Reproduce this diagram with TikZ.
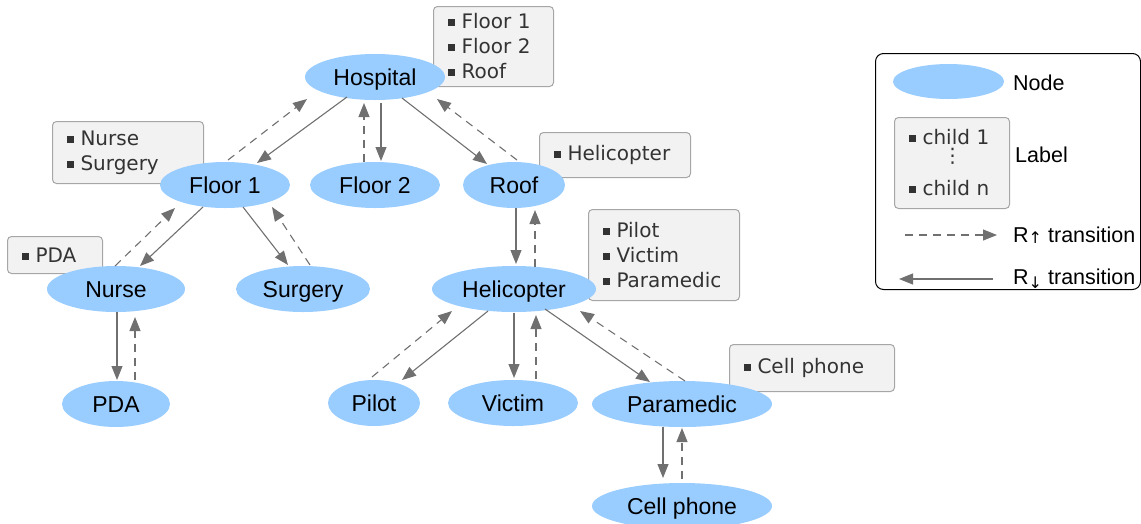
\documentclass[tikz,border=0pt]{standalone}
\usepackage{fontspec}
\setmainfont{Liberation Sans}
\newfontfamily\lblfont{DejaVu Sans}
\usetikzlibrary{shapes.geometric,arrows.meta,calc}

\definecolor{nodeblue}{HTML}{99CCFF}
\definecolor{lblfill}{HTML}{F2F2F2}
\definecolor{lblline}{HTML}{A6A6A6}
\definecolor{lbltext}{HTML}{333333}
\definecolor{edgegray}{HTML}{707070}

% small square bullet used in the child lists
\newcommand\sqb{{\color{lbltext}\rule[2.5pt]{7pt}{7pt}}\hspace{7pt}}
% subscript-like arrows of the legend
\newcommand\rup{\raisebox{-1.5pt}{\lblfont\fontsize{16}{16}\selectfont ↑}}
\newcommand\rdn{\raisebox{-4pt}{\lblfont\fontsize{16}{16}\selectfont ↓}}

\tikzset{
  st/.style={ellipse, fill=nodeblue, draw=none, inner sep=0pt,
    text height=16pt, text depth=0pt, font=\fontsize{23}{23}\selectfont},
  lbl/.style={draw=lblline, fill=lblfill, rounded corners=4pt, line width=1pt,
    anchor=north west, inner xsep=14pt, inner ysep=0pt, align=left,
    text=lbltext, font=\lblfont\fontsize{20}{25}\selectfont},
  legtext/.style={anchor=west, inner sep=0pt, font=\fontsize{21.5}{21.5}\selectfont},
  dn/.style={draw=edgegray, line width=1.1pt,
    -{Triangle[length=14pt,width=11pt]}},
  upe/.style={dn, dash pattern=on 8pt off 6pt},
}

\begin{document}
\begin{tikzpicture}[x=1pt,y=-1pt]
\useasboundingbox (0,0) rectangle (1141,523);

% child lists
\node[lbl, text width=92, minimum height=80] (lhosp) at (433,6)
  {\sqb Floor 1\\\sqb Floor 2\\\sqb Roof};
\node[lbl, text width=123, minimum height=62] (lf1) at (52,121)
  {\sqb Nurse\\\sqb Surgery};
\node[lbl, text width=67, minimum height=37] (lnurse) at (7,236)
  {\sqb PDA};
\node[lbl, text width=123, minimum height=45] (lroof) at (539,132)
  {\sqb Helicopter};
\node[lbl, text width=123, minimum height=91] (lheli) at (588,209)
  {\sqb Pilot\\\sqb Victim\\\sqb Paramedic};
\node[lbl, text width=137, minimum height=47] (lpara) at (729,344)
  {\sqb Cell phone};

% hierarchy nodes
\node[st, minimum width=140, minimum height=46] (hosp)   at (375,77)  {Hospital};
\node[st, minimum width=130, minimum height=46] (f1)     at (225,185) {Floor 1};
\node[st, minimum width=130, minimum height=46] (f2)     at (375,185) {Floor 2};
\node[st, minimum width=102, minimum height=46] (roof)   at (514,185) {Roof};
\node[st, minimum width=138, minimum height=46] (nurse)  at (116,289) {Nurse};
\node[st, minimum width=134, minimum height=46] (surg)   at (303,289) {Surgery};
\node[st, minimum width=108, minimum height=46] (pda)    at (116,404) {PDA};
\node[st, minimum width=164, minimum height=46] (heli)   at (514,289) {Helicopter};
\node[st, minimum width=92,  minimum height=46] (pilot)  at (374,403) {Pilot};
\node[st, minimum width=130, minimum height=46] (victim) at (513,403) {Victim};
\node[st, minimum width=180, minimum height=46] (para)   at (682,404) {Paramedic};
\node[st, minimum width=180, minimum height=46] (cell)   at (682,506) {Cell phone};

% R-down (solid) and R-up (dashed) transitions
\draw[dn]  ($(hosp)+(-28,20)$) -- ($(f1)+(32,-22)$);
\draw[upe] ($(f1)+(3,-25)$) -- ($(hosp)+(-68,22)$);
\draw[dn]  ($(hosp)+(6,26)$) -- ($(f2)+(6,-24)$);
\draw[upe] ($(f2)+(-11,-23)$) -- ($(hosp)+(-11,26)$);
\draw[dn]  ($(hosp)+(27,21)$) -- ($(roof)+(-27,-21)$);
\draw[upe] ($(roof)+(3,-25)$) -- ($(hosp)+(62,22)$);
\draw[dn]  ($(f1)+(-22,22)$) -- ($(nurse)+(24,-23)$);
\draw[upe] ($(nurse)+(-1,-23)$) -- ($(f1)+(-50,23)$);
\draw[dn]  ($(f1)+(18,22)$) -- ($(surg)+(-15,-24)$);
\draw[upe] ($(surg)+(7,-24)$) -- ($(f1)+(47,22)$);
\draw[dn]  ($(nurse)+(1,23)$) -- ($(pda)+(1,-24)$);
\draw[upe] ($(pda)+(19,-24)$) -- ($(nurse)+(19,28)$);
\draw[dn]  ($(roof)+(2,23)$) -- ($(heli)+(2,-25)$);
\draw[upe] ($(heli)+(21,-22)$) -- ($(roof)+(21,25)$);
\draw[dn]  ($(heli)+(-26,22)$) -- ($(pilot)+(28,-23)$);
\draw[upe] ($(pilot)+(-2,-26)$) -- ($(heli)+(-62,22)$);
\draw[dn]  ($(heli)+(0,24)$) -- ($(victim)+(1,-25)$);
\draw[upe] ($(victim)+(23,-24)$) -- ($(heli)+(22,26)$);
\draw[dn]  ($(heli)+(31,20)$) -- ($(para)+(-32,-22)$);
\draw[upe] ($(para)+(3,-23)$) -- ($(heli)+(66,22)$);
\draw[dn]  ($(para)+(-19,23)$) -- ($(cell)+(-19,-28)$);
\draw[upe] ($(cell)+(0,-27)$) -- ($(para)+(0,24)$);

% legend
\node[draw=black, line width=1pt, rounded corners=8pt, anchor=north west,
  minimum width=265, minimum height=236, inner sep=0pt] (legend) at (875,53) {};
\node[st, minimum width=111, minimum height=35] (legnode) at (948.5,81.5) {};
\node[legtext] (legnodetxt) at (1013,83) {Node};
\node[lbl, text width=87, minimum height=91] (leglbl) at (894,117)
  {\sqb child 1\\[-7pt]\hspace{34pt}⋮\\[8pt]\sqb child n};
\node[legtext] (leglbltxt) at (1015,155) {Label};
\coordinate (upa) at (905,235);
\coordinate (upb) at (997,235);
\draw[upe] (upa) -- (upb);
\node[legtext] (uptxt) at (1013,235) {R\rup\ transition};
\coordinate (dna) at (993,279);
\coordinate (dnb) at (899,279);
\draw[dn] (dna) -- (dnb);
\node[legtext] (dntxt) at (1013,279) {R\rdn\ transition};
\end{tikzpicture}
\end{document}
